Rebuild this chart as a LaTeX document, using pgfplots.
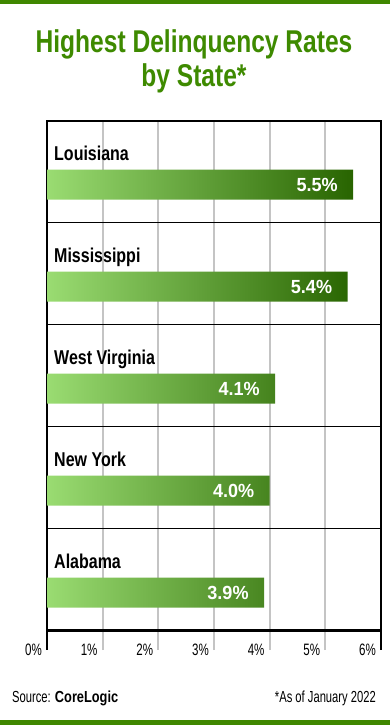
\documentclass[border=0pt]{standalone}
\usepackage{pgfplots}
\pgfplotsset{compat=1.18}
\usepackage{pgfplotstable}
\usepackage{fontspec}
\setmainfont{Liberation Sans}
\newfontfamily\titlefont[FakeStretch=0.78]{Liberation Sans}
\newfontfamily\condfont[FakeStretch=0.8]{Liberation Sans}
\newfontfamily\tickfont[FakeStretch=0.7]{Liberation Sans}
\newfontfamily\valfont[FakeStretch=0.95]{Liberation Sans}
\definecolor{titlegreen}{HTML}{3E8A00}
\definecolor{bandgreen}{HTML}{3F8700}
\definecolor{barlight}{HTML}{9ADC72}
\definecolor{bardark}{HTML}{286400}
\definecolor{gridgray}{HTML}{C4C4C4}
\pgfdeclarehorizontalshading{barshade}{100bp}{color(0bp)=(barlight); color(25bp)=(barlight); color(75bp)=(bardark); color(100bp)=(bardark)}

\pgfplotstableread[col sep=comma]{
rate,pos,labpos,state
5.5,4.375,4.615,Louisiana
5.4,3.375,3.615,Mississippi
4.1,2.375,2.615,West Virginia
4.0,1.375,1.615,New York
3.9,0.375,0.615,Alabama
}\datatable

\begin{document}
\begin{tikzpicture}
\path[use as bounding box] (0,0) rectangle (390bp,725bp);
\fill[bandgreen] (0,720.5bp) rectangle (390bp,725bp);
\fill[bandgreen] (0,0) rectangle (390bp,5bp);
\begin{axis}[
  at={(47bp,94bp)}, anchor=south west,
  width=334bp, height=510bp, scale only axis,
  xmin=0, xmax=6, ymin=0, ymax=5,
  clip=false,
  xtick={0,1,2,3,4,5,6},
  xticklabels={0\%,1\%,2\%,3\%,4\%,5\%,6\%},
  xtick pos=bottom,
  tick align=outside,
  major tick length=19bp,
  x tick style={color=gridgray, line width=2bp},
  xticklabel style={anchor=east, inner sep=0pt, xshift=-5bp, font=\tickfont\fontsize{16.5bp}{16.5bp}\selectfont},
  ytick={1,2,3,4},
  yticklabels={},
  y tick style={draw=none},
  xmajorgrids, x grid style={color=gridgray, line width=2bp},
  ymajorgrids, y grid style={color=black, line width=1bp},
  axis line style={line width=1.2bp, black},
]
\addplot[xbar, bar width=30bp, draw=none, shade, shading=barshade]
  table[x=rate, y=pos] {\datatable};
\addplot[draw=none, mark=none, point meta=x,
  nodes near coords={\pgfmathprintnumber[assume math mode=true,fixed,fixed zerofill,precision=1]{\pgfplotspointmeta}\%},
  every node near coord/.style={anchor=east, xshift=-12bp, text=white, font=\valfont\bfseries\fontsize{19bp}{19bp}\selectfont}]
  table[x=rate, y=pos] {\datatable};
\addplot[draw=none, mark=none, point meta=explicit symbolic,
  nodes near coords,
  every node near coord/.style={anchor=base west, inner sep=0pt, xshift=7bp, text=black, font=\condfont\bfseries\fontsize{20bp}{20bp}\selectfont}]
  table[x expr=0, y=labpos, meta=state] {\datatable};
\draw[line width=1.2bp] (rel axis cs:0,0) -- ++(0,-19bp);
\draw[line width=1.2bp] (rel axis cs:1,0) -- ++(0,-19bp);
\draw[line width=3bp] (rel axis cs:0,0) -- (rel axis cs:1,0);
\end{axis}
\node[anchor=base, text=titlegreen, inner sep=0pt, font=\titlefont\bfseries\fontsize{31.5bp}{31.5bp}\selectfont] at (194bp,672bp) {Highest Delinquency Rates};
\node[anchor=base, text=titlegreen, inner sep=0pt, font=\titlefont\bfseries\fontsize{31.5bp}{31.5bp}\selectfont] at (194bp,638bp) {by State*};
\node[anchor=base west, inner sep=0pt, font=\tickfont\fontsize{16bp}{16bp}\selectfont] at (12bp,23bp) {Source: {\condfont\bfseries CoreLogic}};
\node[anchor=base east, inner sep=0pt, font=\tickfont\fontsize{16bp}{16bp}\selectfont] at (376bp,23bp) {*As of January 2022};
\end{tikzpicture}
\end{document}
